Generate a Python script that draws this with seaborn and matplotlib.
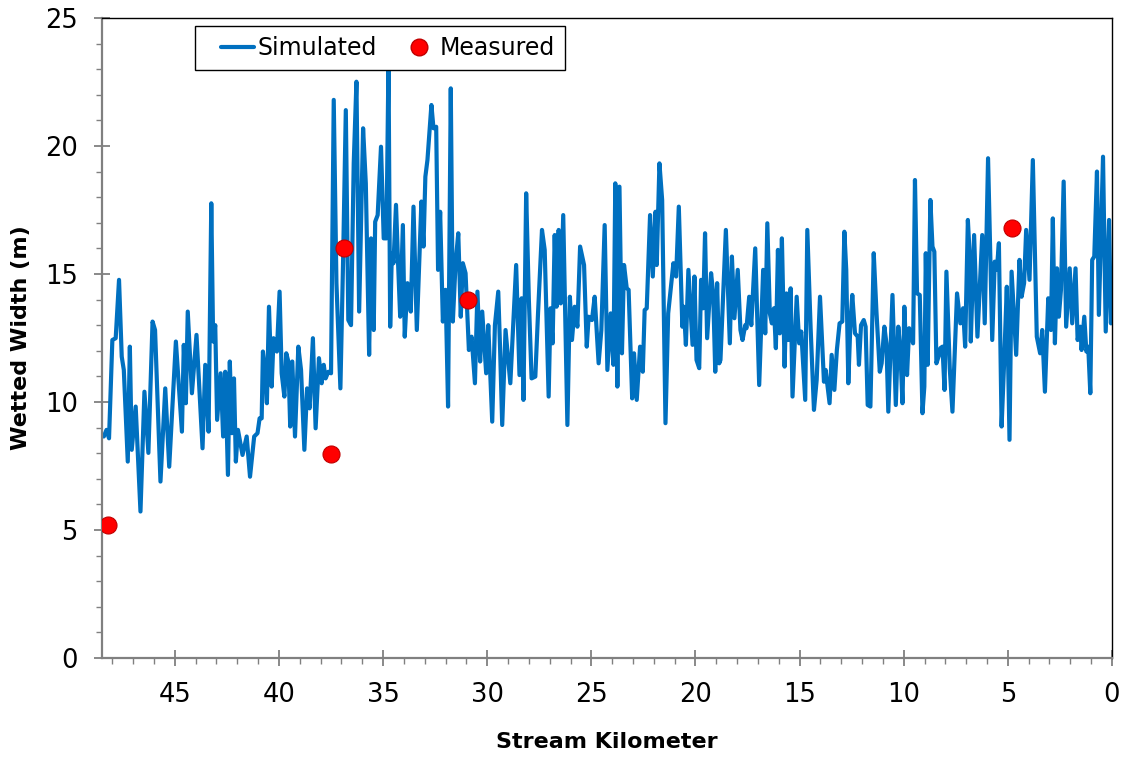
import numpy as np
import pandas as pd
import matplotlib
matplotlib.use("Agg")
import matplotlib.pyplot as plt
from matplotlib.ticker import MultipleLocator
from matplotlib.lines import Line2D
from matplotlib.legend_handler import HandlerLine2D
import seaborn as sns

# ---- Simulated wetted width (stream km, width m) ----
km_seg1 = [48.41, 48.28, 48.16, 48.00, 47.84, 47.68, 47.55, 47.45, 47.26, 47.16, 47.07, 46.88,
           46.65, 46.46, 46.27, 46.07, 45.95, 45.69, 45.46, 45.27, 44.95, 44.66, 44.57, 44.47,
           44.38, 44.18, 43.96, 43.67, 43.54, 43.38, 43.25, 43.16, 43.06, 42.97, 42.80, 42.68,
           42.58, 42.45, 42.36, 42.26, 42.16, 42.07, 41.97, 41.75]
w_seg1 = [8.65, 8.91, 8.58, 12.42, 12.49, 14.77, 11.77, 11.25, 7.67, 12.16, 8.13, 9.82,
          5.72, 10.40, 8.01, 13.14, 12.81, 6.89, 10.53, 7.47, 12.36, 8.84, 12.23, 9.95,
          13.53, 10.34, 12.62, 8.19, 11.45, 8.84, 17.76, 12.36, 13.00, 9.30, 11.12, 8.65,
          11.18, 7.15, 11.58, 8.78, 10.92, 7.67, 8.91, 7.93]

km_seg2 = [41.55, 41.39, 41.19, 41.03, 40.93, 40.83, 40.77, 40.67, 40.58, 40.48, 40.35, 40.26,
           40.10, 39.97, 39.87, 39.74, 39.65, 39.55, 39.46, 39.36, 39.23, 39.07, 38.94, 38.78,
           38.65, 38.53, 38.37, 38.24, 38.08, 37.95, 37.85, 37.76, 37.63, 37.50, 37.37, 37.24,
           37.05, 36.92, 36.79, 36.67, 36.54, 36.41, 36.28, 36.15, 35.96, 35.83, 35.67, 35.58,
           35.45, 35.38, 35.26, 35.10, 34.97, 34.84, 34.74, 34.66]
w_seg2 = [8.65, 7.08, 8.65, 8.78, 9.36, 9.36, 11.97, 11.25, 9.95, 13.72, 10.60, 12.49,
          11.97, 14.31, 11.12, 10.21, 11.90, 11.58, 9.04, 11.58, 8.65, 12.16, 11.25, 8.13,
          10.53, 9.75, 12.49, 8.97, 11.71, 10.73, 11.45, 10.92, 11.18, 11.12, 21.80, 14.64,
          10.53, 15.55, 21.40, 13.20, 13.00, 19.32, 22.51, 13.53, 20.69, 18.54, 11.84, 16.39,
          12.81, 17.04, 17.30, 19.97, 16.39, 16.39, 23.36, 12.94]

km_seg3 = [34.58, 34.50, 34.38, 34.28, 34.18, 34.05, 33.96, 33.83, 33.67, 33.54, 33.38, 33.16,
           33.06, 32.97, 32.87, 32.68, 32.58, 32.45, 32.36, 32.26, 32.13, 32.00, 31.88, 31.75,
           31.65, 31.52, 31.39, 31.27, 31.17, 31.04, 30.88, 30.75, 30.59, 30.47, 30.34, 30.24,
           30.05, 29.95, 29.76, 29.63, 29.47, 29.38, 29.28, 29.12, 28.89, 28.61, 28.45, 28.35,
           28.26, 28.13, 28.00, 27.87]
w_seg3 = [15.81, 15.42, 17.70, 15.42, 13.33, 16.91, 12.55, 14.64, 13.53, 17.63, 12.81, 17.83,
          16.07, 18.80, 19.45, 21.60, 20.69, 20.75, 15.16, 17.43, 13.14, 14.38, 9.82, 22.25,
          13.14, 15.42, 16.59, 13.33, 15.42, 15.03, 12.03, 12.55, 10.73, 14.31, 11.58, 13.53,
          11.12, 13.00, 9.23, 13.00, 14.31, 12.03, 9.10, 12.81, 10.73, 15.35, 11.05, 14.05,
          10.08, 18.15, 13.98, 10.92]

km_seg4 = [27.69, 27.56, 27.37, 27.24, 27.05, 26.96, 26.86, 26.76, 26.67, 26.57, 26.47, 26.35,
           26.15, 26.03, 25.93, 25.80, 25.67, 25.54, 25.35, 25.22, 25.13, 24.97, 24.84, 24.65,
           24.52, 24.36, 24.23, 24.07, 23.94, 23.85, 23.75, 23.65, 23.53, 23.43, 23.30, 23.21,
           23.04, 22.95, 22.82, 22.66, 22.53, 22.44, 22.34, 22.18, 22.05, 21.92, 21.86, 21.73,
           21.60, 21.44, 21.31, 21.06, 20.93, 20.80]
w_seg4 = [10.99, 13.46, 16.72, 15.94, 10.21, 13.66, 12.29, 16.52, 13.72, 16.72, 13.85, 17.30,
          9.10, 14.11, 12.42, 13.72, 12.94, 16.07, 15.35, 12.16, 13.33, 13.20, 14.11, 11.51,
          12.81, 16.91, 11.25, 13.46, 11.45, 18.54, 10.60, 18.41, 11.90, 15.35, 14.44, 14.38,
          10.14, 11.90, 10.08, 12.16, 11.18, 13.59, 13.66, 17.30, 14.90, 17.43, 15.35, 19.32,
          17.89, 9.17, 13.46, 15.42, 14.90, 17.63]

km_seg5 = [20.63, 20.56, 20.46, 20.34, 20.14, 20.05, 19.95, 19.82, 19.73, 19.63, 19.54, 19.44,
           19.25, 19.15, 19.05, 18.96, 18.86, 18.80, 18.54, 18.35, 18.25, 18.13, 17.97, 17.84,
           17.74, 17.61, 17.55, 17.42, 17.32, 17.13, 16.94, 16.75, 16.65, 16.55, 16.43, 16.33,
           16.23, 16.14, 16.04, 15.95, 15.85, 15.72, 15.63, 15.53, 15.43, 15.34, 15.14, 15.02,
           14.92, 14.73, 14.63, 14.47, 14.31, 14.18, 14.02, 13.83]
w_seg5 = [12.94, 13.72, 12.23, 15.16, 12.23, 14.90, 11.64, 11.32, 14.77, 13.66, 16.59, 12.49,
          15.03, 14.24, 11.18, 14.64, 11.51, 11.64, 16.72, 12.29, 15.68, 13.27, 15.16, 12.81,
          12.42, 13.00, 12.88, 14.11, 13.00, 16.00, 10.66, 15.16, 12.68, 16.98, 13.46, 13.07,
          13.66, 12.10, 15.94, 12.68, 16.39, 11.38, 14.24, 12.42, 14.44, 10.21, 14.11, 12.29,
          12.75, 10.08, 16.72, 12.88, 9.69, 10.86, 14.11, 10.79]

km_seg6 = [13.75, 13.56, 13.46, 13.33, 13.21, 13.08, 12.95, 12.85, 12.76, 12.66, 12.56, 12.47,
           12.34, 12.21, 12.15, 12.05, 11.92, 11.83, 11.73, 11.60, 11.44, 11.31, 11.15, 11.06,
           10.93, 10.83, 10.74, 10.54, 10.38, 10.26, 10.16, 10.06, 9.97, 9.84, 9.74, 9.55,
           9.46, 9.36, 9.23, 9.10, 9.01, 8.94, 8.85, 8.72, 8.62, 8.53, 8.43, 8.30, 8.24,
           8.14, 8.04, 7.95, 7.79, 7.66, 7.44, 7.28, 7.15, 7.05, 6.92, 6.83]
w_seg6 = [11.25, 9.95, 11.84, 10.47, 12.03, 13.07, 13.14, 16.65, 15.16, 10.73, 13.07, 14.18,
          12.68, 12.55, 11.45, 13.00, 13.20, 12.94, 9.88, 9.82, 15.81, 13.53, 11.18, 11.51,
          12.94, 12.29, 9.62, 14.18, 9.88, 12.94, 11.97, 9.95, 13.72, 11.05, 12.88, 12.29,
          18.67, 14.24, 14.18, 9.56, 10.60, 15.81, 11.45, 17.89, 16.07, 15.87, 11.51, 11.84,
          12.10, 12.16, 10.47, 15.09, 11.32, 9.62, 14.24, 13.07, 13.66, 12.16, 17.11, 15.68]

km_seg7 = [6.78, 6.62, 6.46, 6.23, 6.11, 5.95, 5.75, 5.63, 5.53, 5.43, 5.30, 5.18, 5.05,
           4.92, 4.82, 4.60, 4.44, 4.34, 4.22, 4.12, 3.96, 3.80, 3.61, 3.45, 3.35, 3.22,
           3.06, 2.93, 2.84, 2.74, 2.64, 2.55, 2.45, 2.32, 2.20, 2.03, 1.91, 1.75, 1.65,
           1.52, 1.46, 1.33, 1.23, 1.14, 1.04, 0.95, 0.85, 0.72, 0.63, 0.43, 0.30, 0.14,
           0.05, 0.00]
w_seg7 = [12.36, 16.52, 12.55, 16.52, 13.07, 19.52, 12.42, 15.48, 15.16, 16.20, 9.04, 11.51,
          14.50, 8.52, 15.09, 11.84, 15.55, 14.11, 14.64, 16.72, 14.77, 19.45, 12.55, 11.90,
          12.81, 10.40, 14.05, 12.81, 17.17, 12.29, 15.22, 13.33, 14.38, 18.61, 12.94, 15.22,
          13.07, 15.22, 12.42, 12.94, 12.03, 13.33, 11.97, 12.16, 10.34, 15.55, 15.68, 19.00,
          13.40, 19.58, 12.75, 17.11, 13.07, 14.11]

# ---- Measured wetted width ----
meas_km = [48.22, 37.50, 36.88, 30.91, 4.81]
meas_w = [5.2, 7.95, 16.0, 14.0, 16.8]

sim = pd.DataFrame({
    "km": km_seg1 + km_seg2 + km_seg3 + km_seg4 + km_seg5 + km_seg6 + km_seg7,
    "width": w_seg1 + w_seg2 + w_seg3 + w_seg4 + w_seg5 + w_seg6 + w_seg7,
})
meas = pd.DataFrame({"km": meas_km, "width": meas_w})

sns.set_theme(style="white")
plt.rcParams["font.family"] = ["DejaVu Sans"]
plt.rcParams["text.color"] = "black"
plt.rcParams["axes.labelcolor"] = "black"

fig = plt.figure(figsize=(11.24, 7.58), dpi=100)
ax = fig.add_axes([0.0907, 0.132, 0.8986, 0.8443])

blue = "#0070C0"
red = "#FF0000"
sns.lineplot(data=sim, x="km", y="width", ax=ax, color=blue, linewidth=3.0,
             estimator=None, sort=False, legend=False)
sns.scatterplot(data=meas, x="km", y="width", ax=ax, color=red,
                edgecolor="#C00000", linewidth=0.8, s=150, zorder=5, legend=False)

ax.set_xlim(48.5, 0)
ax.set_ylim(0, 25)
ax.xaxis.set_major_locator(MultipleLocator(5))
ax.xaxis.set_minor_locator(MultipleLocator(1))
ax.yaxis.set_major_locator(MultipleLocator(5))
ax.yaxis.set_minor_locator(MultipleLocator(1))

grey = "#808080"
for s in ["left", "bottom"]:
    ax.spines[s].set_color(grey)
    ax.spines[s].set_linewidth(1.6)
for s in ["top", "right"]:
    ax.spines[s].set_color("black")
    ax.spines[s].set_linewidth(1.0)

ax.tick_params(axis="both", which="major", direction="inout", length=11, width=1.3,
               color=grey, labelsize=18.5, labelcolor="black")
ax.tick_params(axis="both", which="minor", direction="out", length=4.5, width=1.0,
               color=grey)
ax.tick_params(axis="x", which="major", pad=12, bottom=True)
ax.tick_params(axis="x", which="minor", bottom=True)
ax.tick_params(axis="y", which="major", pad=12, left=True)
ax.tick_params(axis="y", which="minor", left=True)

ax.set_xlabel("Stream Kilometer", fontsize=16, fontweight="bold", labelpad=17,
              color="black")
ax.set_ylabel("Wetted Width (m)", fontsize=16, fontweight="bold", labelpad=10,
              color="black")


class RightShiftHandler(HandlerLine2D):
    """Draw the legend handle compressed into the right part of its slot."""
    def __init__(self, frac=0.68, **kw):
        super().__init__(**kw)
        self.frac = frac

    def create_artists(self, legend, orig_handle, xdescent, ydescent, width,
                       height, fontsize, trans):
        arts = super().create_artists(legend, orig_handle, xdescent, ydescent,
                                      width, height, fontsize, trans)
        right = -xdescent + width
        for a in arts:
            xd = np.asarray(a.get_xdata(), dtype=float)
            a.set_xdata(right - (right - xd) * self.frac)
        return arts


h_line = Line2D([0], [0], color=blue, lw=3.0)
h_pt = Line2D([0], [0], marker="o", color="none", markerfacecolor=red,
              markeredgecolor="#C00000", markersize=12)
leg = ax.legend([h_line, h_pt], ["Simulated", "Measured"], ncol=2, loc="upper left",
                bbox_to_anchor=(0.092, 0.987), fontsize=17, frameon=True,
                fancybox=False, framealpha=1, edgecolor="black",
                handlelength=2.1, handletextpad=0.15, columnspacing=0.4,
                borderpad=0.42, borderaxespad=0,
                handler_map={h_line: RightShiftHandler(0.68),
                             h_pt: RightShiftHandler(0.68)})
leg.get_frame().set_linewidth(1.0)

fig.savefig("out.png", dpi=100)
